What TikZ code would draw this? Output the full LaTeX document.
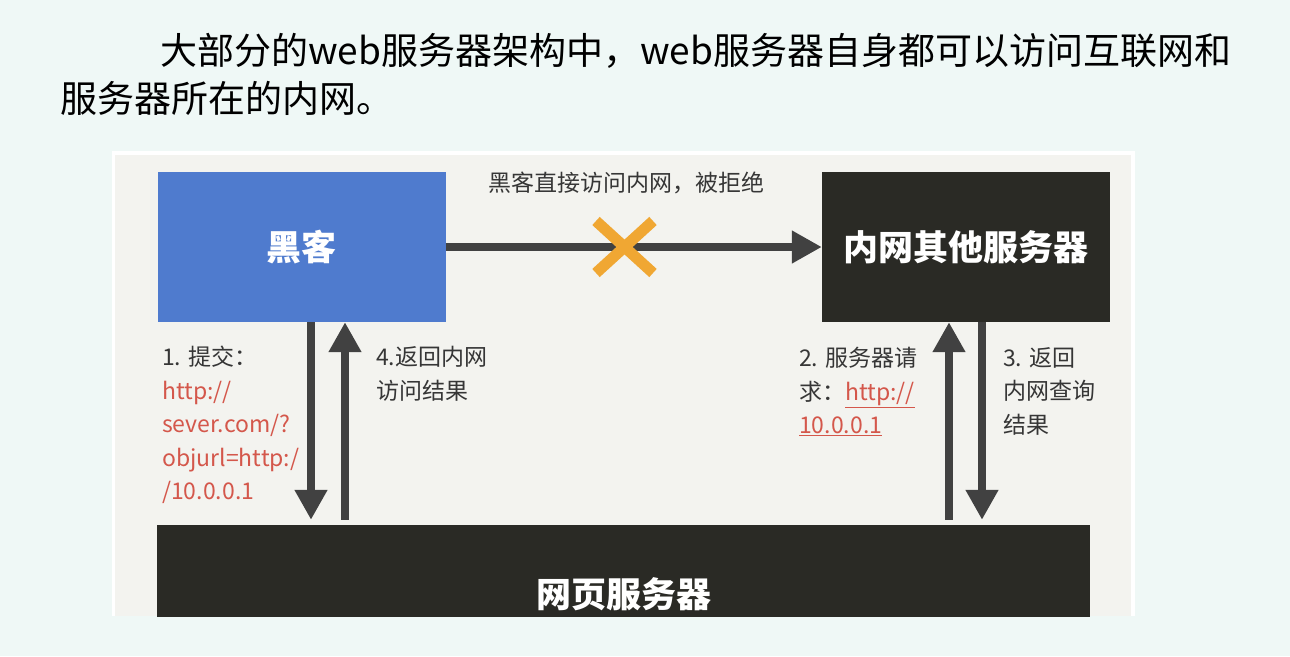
\documentclass[tikz,border=0pt]{standalone}
\usepackage{fontspec}
\setmainfont{Noto Sans CJK SC}
\usetikzlibrary{arrows.meta}
\definecolor{latar}{HTML}{EFF8F6}
\definecolor{panel}{HTML}{F3F3EF}
\definecolor{biru}{HTML}{4F7BCE}
\definecolor{gelap}{HTML}{2A2A25}
\definecolor{abu}{HTML}{414141}
\definecolor{oranye}{HTML}{F0A733}
\definecolor{teks}{HTML}{363636}
\definecolor{merah}{HTML}{D4574B}
\begin{document}
\begin{tikzpicture}[x=1pt,y=-1pt,
      kotak/.style={inner sep=0pt,minimum width=288pt,minimum height=150pt,
        text=white,font=\fontsize{35}{40}\selectfont\bfseries},
      ket/.style={anchor=north west,inner sep=0pt,align=left,text=teks,
        font=\fontsize{23}{33.5}\selectfont},
      panah/.style={draw=abu,line width=8pt,
        -{Triangle[width=31pt,length=30pt]}},
      silang/.style={draw=oranye,line width=11pt}]
    \useasboundingbox[fill=latar] (0,0) rectangle (1290,656);

    % Judul
    \node[anchor=north west,inner sep=0pt,align=left,
      font=\fontsize{37}{48}\selectfont] (judul) at (60,33)
      {\hspace*{100pt}大部分的web服务器架构中，web服务器自身都可以访问互联网和\\
       服务器所在的内网。};

    % Panel gambar
    \fill[white] (112,151) rectangle (1135,616);
    \fill[panel] (115,155) rectangle (1131,616);

    % Kotak-kotak
    \node[kotak,fill=biru] (hacker) at (301.5,247) {黑客};
    \node[kotak,fill=gelap] (intranet) at (966,247) {内网其他服务器};
    \begin{scope}
      \clip (112,151) rectangle (1135,616);
      \node[kotak,fill=gelap,minimum width=933pt,minimum height=138pt]
        (web) at (623.5,594) {网页服务器};
    \end{scope}

    % Panah
    \draw[panah] (hacker) -- (intranet);
    \draw[silang] (596,221) -- (653,273) (596,273) -- (653,221);
    \draw[panah,shorten >=5pt] (311,0 |- hacker.south) -- (311,0 |- web.north);
    \draw[panah,shorten <=5pt] (345,0 |- web.north) -- (345,0 |- hacker.south);
    \draw[panah,shorten <=5pt] (949,0 |- web.north) -- (949,0 |- intranet.south);
    \draw[panah,shorten >=5pt] (982,0 |- intranet.south) -- (982,0 |- web.north);

    % Keterangan
    \node[text=teks,font=\fontsize{23}{28}\selectfont] (tolak) at (626,183)
      {黑客直接访问内网，被拒绝};
    \node[ket] (langkah1) at (162,346) {1. 提交：\\
      \textcolor{merah}{http://}\\\textcolor{merah}{sever.com/?}\\
      \textcolor{merah}{objurl=http:/}\\\textcolor{merah}{/10.0.0.1}};
    \node[ket] (langkah4) at (376,346) {4.返回内网\\访问结果};
    \node[ket] (langkah2) at (799,347) {2. 服务器请\\
      求：\textcolor{merah}{\underline{http://}}\\
      \textcolor{merah}{\underline{10.0.0.1}}};
    \node[ket] (langkah3) at (1003,347) {3. 返回\\内网查询\\结果};
  \end{tikzpicture}
\end{document}
